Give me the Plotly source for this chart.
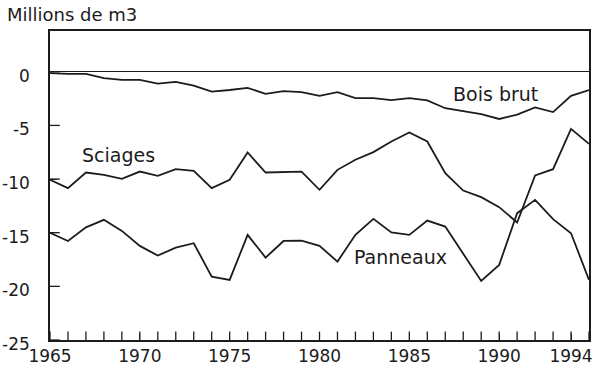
import plotly.graph_objects as go

years = list(range(1965, 1996))

bois_brut = [-0.12, -0.2, -0.2, -0.6, -0.75, -0.75, -1.1, -0.95, -1.3, -1.85,
             -1.7, -1.5, -2.05, -1.8, -1.9, -2.25, -1.9, -2.45, -2.45, -2.65,
             -2.45, -2.67, -3.4, -3.7, -3.95, -4.4, -4.0, -3.33, -3.76, -2.24, -1.7]

sciages = [-10.07, -10.85, -9.39, -9.6, -9.98, -9.3, -9.7, -9.08, -9.24, -10.85,
           -10.07, -7.52, -9.39, -9.36, -9.3, -11.0, -9.14, -8.2, -7.49, -6.5,
           -5.66, -6.5, -9.45, -11.07, -11.69, -12.62, -14.05, -9.67, -9.08, -5.32, -6.72]

panneaux = [-15.0, -15.77, -14.5, -13.8, -14.83, -16.23, -17.13, -16.39, -15.98, -19.09,
            -19.4, -15.2, -17.32, -15.77, -15.74, -16.23, -17.69, -15.2, -13.71, -14.98,
            -15.2, -13.87, -14.43, -16.92, -19.5, -18.0, -13.18, -11.94, -13.74, -15.05, -19.4]

x_tick_vals = [1965, 1970, 1975, 1980, 1985, 1990, 1994]
x_tick_text = ["1965", "1970", "1975", "1980", "1985", "1990", "1994"]
y_tick_vals = [0, -5, -10, -15, -20, -25]
y_tick_text = ["0", "-5", "-10", "-15", "-20", "-25"]

series_names = ["Bois brut", "Sciages", "Panneaux"]
label_pos = [(1989.8, -2.05), (1968.8, -7.75), (1984.5, -17.25)]

X_RANGE = [1965, 1995]
Y_RANGE = [-25, 3.8]

FONT = "DejaVu Sans"
INK = "#1c1c1c"

fig = go.Figure()
for name, vals in zip(series_names, [bois_brut, sciages, panneaux]):
    fig.add_trace(go.Scatter(x=years, y=vals, mode="lines", name=name,
                             line=dict(color=INK, width=1.8), showlegend=False))

# inside tick marks (markers half-clipped by the plot area)
fig.add_trace(go.Scatter(x=years, y=[Y_RANGE[0]] * len(years), mode="markers",
                         marker=dict(symbol="line-ns", size=12,
                                     line=dict(width=1.3, color=INK)),
                         cliponaxis=True, hoverinfo="skip", showlegend=False))
fig.add_trace(go.Scatter(x=[X_RANGE[0]] * len(y_tick_vals), y=y_tick_vals, mode="markers",
                         marker=dict(symbol="line-ew", size=14,
                                     line=dict(width=1.3, color=INK)),
                         cliponaxis=True, hoverinfo="skip", showlegend=False))

for name, (lx, ly) in zip(series_names, label_pos):
    fig.add_annotation(x=lx, y=ly, xref="x", yref="y", text=name, showarrow=False,
                       font=dict(family=FONT, size=19, color=INK),
                       xanchor="center", yanchor="middle")

fig.update_layout(
    template="none",
    width=600, height=377,
    margin=dict(l=50, r=11, t=31, b=37),
    paper_bgcolor="white", plot_bgcolor="white",
    title=dict(text="Millions de m3", x=7 / 600, xanchor="left", xref="container",
               y=1 - 15 / 377, yanchor="middle", yref="container",
               font=dict(family=FONT, size=18, color=INK)),
    font=dict(family=FONT, size=17, color=INK),
)

fig.update_xaxes(range=X_RANGE, tickmode="array", tickvals=x_tick_vals,
                 ticktext=x_tick_text,
                 ticks="inside", ticklen=6, tickcolor=INK, tickwidth=1.3,
                 showline=True, linecolor=INK, linewidth=1.5, mirror=True,
                 showgrid=False, zeroline=False,
                 tickfont=dict(family=FONT, size=17, color=INK))

fig.update_yaxes(range=Y_RANGE, tickmode="array", tickvals=y_tick_vals,
                 ticktext=y_tick_text,
                 ticks="inside", ticklen=7, tickcolor=INK, tickwidth=1.3,
                 showline=True, linecolor=INK, linewidth=1.5, mirror=True,
                 showgrid=False, zeroline=True, zerolinecolor=INK, zerolinewidth=1.2,
                 ticklabelstandoff=15, ticklabelshift=4,
                 tickfont=dict(family=FONT, size=17, color=INK))

fig.write_html("out.html", config={"displayModeBar": False},
               post_script="document.body.style.margin='0';document.body.style.overflow='hidden';")
